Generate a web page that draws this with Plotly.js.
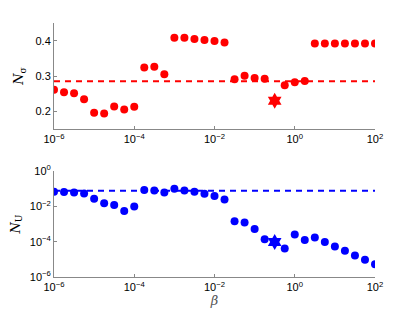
<!DOCTYPE html>
<html><head><meta charset="utf-8">
<script src="https://cdn.plot.ly/plotly-3.0.1.min.js"></script>
<style>html,body{margin:0;padding:0;background:#fff}#c{width:415px;height:312px}</style>
</head><body><div id="c"></div>
<script>
// beta exponents: 10^(-6 + 0.25 k), k = 0..32
const betaExp = [-6,-5.75,-5.5,-5.25,-5,-4.75,-4.5,-4.25,-4,-3.75,-3.5,-3.25,-3,-2.75,-2.5,-2.25,-2,-1.75,-1.5,-1.25,-1,-0.75,-0.5,-0.25,0,0.25,0.5,0.75,1,1.25,1.5,1.75,2];
const beta = betaExp.map(e => Math.pow(10, e));
// N_sigma (red) — index 22 is the star
const nSigma = [0.261,0.254,0.251,0.234,0.196,0.194,0.214,0.205,0.213,0.324,0.326,0.305,0.408,0.408,0.405,0.402,0.399,0.395,0.291,0.301,0.294,0.292,null,0.274,0.282,0.286,0.392,0.392,0.392,0.392,0.392,0.392,0.392];
const starBeta = [Math.pow(10,-0.5)];
const starSigma = [0.23];
const sigmaRef = 0.285;
// N_U (blue), log10 values
const nULog = [-1.17,-1.19,-1.21,-1.27,-1.57,-1.82,-1.93,-2.27,-2.01,-1.08,-1.10,-1.21,-1.00,-1.10,-1.17,-1.29,-1.42,-1.61,-2.84,-2.92,-3.28,-3.86,null,-4.38,-3.60,-3.90,-3.77,-4.02,-4.28,-4.51,-4.79,-5.02,-5.28];
const nU = nULog.map(v => v === null ? null : Math.pow(10, v));
const starU = [Math.pow(10,-4.02)];
const uRef = 0.076;
const xTicks = [1e-6,1e-4,1e-2,1,1e2];
const xTickText = ['10<sup>−6</sup>','10<sup>−4</sup>','10<sup>−2</sup>','10<sup>0</sup>','10<sup>2</sup>'];
const yTopTicks = [0.2,0.3,0.4];
const yTopText = ['0.2','0.3','0.4'];
const yBotTicks = [1e-6,1e-4,1e-2,1];
const yBotText = ['10<sup>−6</sup>','10<sup>−4</sup>','10<sup>−2</sup>','10<sup>0</sup>'];

const red = '#ff0000', blue = '#0000ff';
const traces = [
  {x:[1e-6,1e2], y:[sigmaRef,sigmaRef], mode:'lines', line:{color:red,width:2,dash:'6px,5px'}, xaxis:'x', yaxis:'y', hoverinfo:'skip'},
  {x:beta, y:nSigma, mode:'markers', marker:{color:red,size:8}, xaxis:'x', yaxis:'y'},
  {x:starBeta, y:starSigma, mode:'markers', marker:{color:red,size:12,symbol:'hexagram'}, xaxis:'x', yaxis:'y'},
  {x:[1e-6,1e2], y:[uRef,uRef], mode:'lines', line:{color:blue,width:2,dash:'6px,5px'}, xaxis:'x2', yaxis:'y2', hoverinfo:'skip'},
  {x:beta, y:nU, mode:'markers', marker:{color:blue,size:8}, xaxis:'x2', yaxis:'y2'},
  {x:starBeta, y:starU, mode:'markers', marker:{color:blue,size:12,symbol:'hexagram'}, xaxis:'x2', yaxis:'y2'}
];
const axBase = {showgrid:false, zeroline:false, showline:true, linecolor:'#888', linewidth:1,
  ticks:'inside', ticklen:3, tickcolor:'#888', tickfont:{family:'Liberation Sans, Arial', size:11, color:'#000'}};
const xd = [54/415, 375/415];
const layout = {
  width:415, height:312, margin:{l:0,r:0,t:0,b:0}, showlegend:false,
  paper_bgcolor:'#fff', plot_bgcolor:'#fff',
  xaxis: Object.assign({}, axBase, {type:'log', domain:xd, range:[-6,2], tickvals:xTicks, ticktext:xTickText, anchor:'y'}),
  yaxis: Object.assign({}, axBase, {domain:[1-129/312, 1-23/312], range:[0.15,0.45], tickvals:yTopTicks, ticktext:yTopText, anchor:'x',
    title:{text:'<i>N</i><sub>σ</sub>', font:{family:'DejaVu Serif', size:13, color:'#000'}, standoff:8}}),
  xaxis2: Object.assign({}, axBase, {type:'log', domain:xd, range:[-6,2], tickvals:xTicks, ticktext:xTickText, anchor:'y2',
    title:{text:'<i>β</i>', font:{family:'DejaVu Serif', size:13, color:'#555'}, standoff:2}}),
  yaxis2: Object.assign({}, axBase, {type:'log', domain:[1-277/312, 1-171/312], range:[-6,0], tickvals:yBotTicks, ticktext:yBotText, anchor:'x2',
    title:{text:'<i>N</i><sub>U</sub>', font:{family:'DejaVu Serif', size:13, color:'#000'}, standoff:6}})
};
Plotly.newPlot('c', traces, layout, {staticPlot:true, displayModeBar:false});
</script></body></html>
